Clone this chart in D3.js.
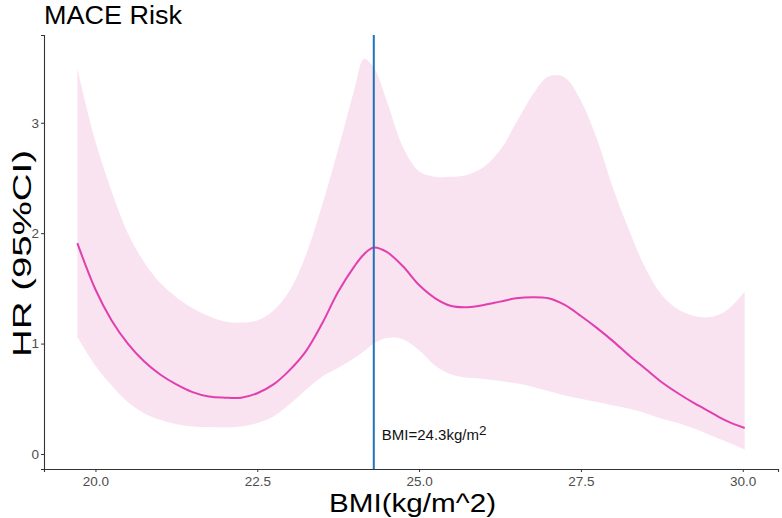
<!DOCTYPE html>
<html>
<head>
<meta charset="utf-8">
<script src="https://cdn.jsdelivr.net/npm/d3@7"></script>
<style>
  body { margin: 0; background: #fff; }
  text { font-family: "Liberation Sans", Arial, Helvetica, sans-serif; }
</style>
</head>
<body>
<script>
// BMI grid and spline estimates
var bmi = [19.72, 20.0, 20.25, 20.5, 20.75, 21.0, 21.25, 21.5, 21.75, 22.0, 22.25, 22.5, 22.75,
  23.0, 23.25, 23.5, 23.75, 24.0, 24.15, 24.3, 24.5, 24.75, 25.0, 25.25, 25.5, 25.75, 26.0,
  26.25, 26.5, 26.75, 27.0, 27.25, 27.5, 27.75, 28.0, 28.25, 28.5, 28.75, 29.0, 29.25, 29.5,
  29.75, 30.03];
var hr = [1.91, 1.49, 1.21, 1.00, 0.84, 0.72, 0.63, 0.56, 0.52, 0.51, 0.51, 0.55, 0.63,
  0.76, 0.93, 1.18, 1.47, 1.70, 1.81, 1.87, 1.83, 1.70, 1.53, 1.41, 1.34, 1.33, 1.35,
  1.38, 1.41, 1.42, 1.41, 1.35, 1.25, 1.14, 1.02, 0.89, 0.77, 0.65, 0.55, 0.46, 0.38,
  0.30, 0.235];
var upper = [3.49, 2.83, 2.38, 2.00, 1.74, 1.55, 1.42, 1.32, 1.25, 1.20, 1.19, 1.21, 1.30,
  1.48, 1.80, 2.25, 2.76, 3.30, 3.58, 3.50, 3.20, 2.78, 2.56, 2.51, 2.51, 2.53, 2.60,
  2.75, 3.00, 3.25, 3.42, 3.41, 3.20, 2.85, 2.40, 2.02, 1.68, 1.44, 1.31, 1.25, 1.24,
  1.30, 1.47];
var lower = [1.06, 0.80, 0.62, 0.47, 0.37, 0.31, 0.27, 0.25, 0.245, 0.24, 0.25, 0.28, 0.34,
  0.45, 0.58, 0.70, 0.78, 0.87, 0.93, 1.00, 1.05, 1.04, 0.94, 0.80, 0.72, 0.69, 0.68,
  0.66, 0.64, 0.61, 0.57, 0.53, 0.50, 0.47, 0.44, 0.41, 0.37, 0.32, 0.28, 0.23, 0.17,
  0.11, 0.04];
var xTicks = [20, 22.5, 25, 27.5, 30];
var yTicks = [0, 1, 2, 3];
var cutoff = 24.3;

var width = 782, height = 518;
var margin = {top: 35, right: 4, bottom: 49, left: 44};

var svg = d3.select("body").append("svg")
  .attr("width", width)
  .attr("height", height);

var data = bmi.map(function(b, i) {
  return {x: b, y: hr[i], lo: lower[i], hi: upper[i]};
});

var x = d3.scaleLinear()
  .domain([19.205, 30.545])
  .range([margin.left, width - margin.right]);

var y = d3.scaleLinear()
  .domain([-0.136, 3.795])
  .range([height - margin.bottom, margin.top]);

var smooth = d3.curveCatmullRom.alpha(0.5);

// ribbon
svg.append("path")
  .datum(data)
  .attr("fill", "#f9e3f1")
  .attr("d", d3.area()
    .x(function(d) { return x(d.x); })
    .y0(function(d) { return y(d.lo); })
    .y1(function(d) { return y(d.hi); })
    .curve(smooth));

// HR line
svg.append("path")
  .datum(data)
  .attr("fill", "none")
  .attr("stroke", "#e23fae")
  .attr("stroke-width", 2)
  .attr("d", d3.line()
    .x(function(d) { return x(d.x); })
    .y(function(d) { return y(d.y); })
    .curve(smooth));

// cutoff line
svg.append("line")
  .attr("x1", x(cutoff)).attr("x2", x(cutoff))
  .attr("y1", margin.top).attr("y2", height - margin.bottom)
  .attr("stroke", "#1f73b7")
  .attr("stroke-width", 2);

var ann = svg.append("text")
  .attr("x", x(cutoff) + 8)
  .attr("y", 440)
  .attr("font-size", 15)
  .attr("fill", "#111");
ann.append("tspan").text("BMI=24.3kg/m");
ann.append("tspan").attr("dy", -5).attr("font-size", 13.5).text("2");

// axes
var xAxis = svg.append("g")
  .attr("transform", "translate(0," + (height - margin.bottom) + ")")
  .call(d3.axisBottom(x).tickValues(xTicks).tickFormat(d3.format(".1f")).tickSize(3).tickPadding(4));

var yAxis = svg.append("g")
  .attr("transform", "translate(" + margin.left + ",0)")
  .call(d3.axisLeft(y).tickValues(yTicks).tickFormat(d3.format("d")).tickSize(3).tickPadding(2));

[xAxis, yAxis].forEach(function(a) {
  a.select(".domain").attr("stroke", "#333").attr("stroke-width", 1.1);
  a.selectAll(".tick line").attr("stroke", "#333");
  a.selectAll(".tick text").attr("fill", "#4d4d4d").attr("font-size", 13.5)
    .style("font-family", "'Liberation Sans', Arial, sans-serif");
});

// titles
svg.append("text")
  .attr("x", 44).attr("y", 24)
  .attr("font-size", 26)
  .attr("textLength", 138)
  .attr("lengthAdjust", "spacingAndGlyphs")
  .text("MACE Risk");

svg.append("text")
  .attr("x", 329).attr("y", 512)
  .attr("font-size", 26)
  .attr("textLength", 167)
  .attr("lengthAdjust", "spacingAndGlyphs")
  .text("BMI(kg/m^2)");

svg.append("text")
  .attr("transform", "translate(31,357) rotate(-90)")
  .attr("font-size", 25)
  .attr("textLength", 207)
  .attr("lengthAdjust", "spacingAndGlyphs")
  .text("HR (95%CI)");
</script>
</body>
</html>
